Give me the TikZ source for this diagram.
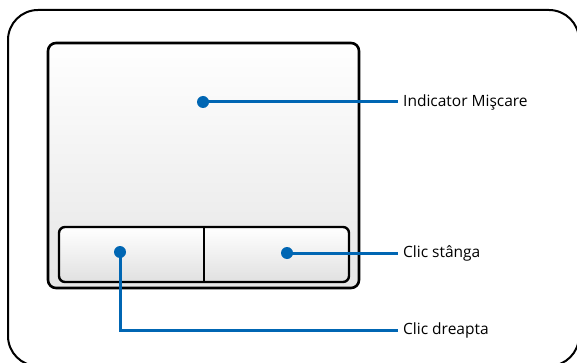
\documentclass[tikz,border=0pt]{standalone}
\usepackage{fontspec}
\setmainfont{Open Sans}
\begin{document}
\begin{tikzpicture}[x=1pt,y=-1pt,
  frame/.style={draw=black,line width=2pt},
  pad/.style={draw=black,line width=2.6pt,rounded corners=8pt},
  lead/.style={draw=leadblue,line width=3pt},
  dotmark/.style={circle,fill=leadblue,inner sep=0pt,minimum size=12pt},
  lbl/.style={anchor=west,inner sep=0pt,font=\fontsize{15.5}{18}\selectfont}]
\definecolor{leadblue}{HTML}{0066B3}
\useasboundingbox (0,0) rectangle (577,363);
\begin{scope}
\clip (0,0) rectangle (577,363);
\draw[frame,rounded corners=30pt] (8,10) rectangle (579,366);
\end{scope}
% touchpad
\shade[top color=white,bottom color=black!10,rounded corners=8pt] (48,43) rectangle (359,288);
\draw[pad] (48,43) rectangle (359,288);
% buttons
\shade[top color=white,bottom color=black!12,rounded corners=6pt] (59,227) rectangle (349,282);
\draw[black,line width=2.4pt,rounded corners=6pt] (59,227) rectangle (349,282);
\draw[black,line width=2.2pt] (204,227) -- (204,282);
% markers
\node[dotmark] (d1) at (203,102) {};
\node[dotmark] (d2) at (287,253) {};
\node[dotmark] (d3) at (120,252) {};
\node[lbl] (t1) at (403,102) {Indicator Mişcare};
\node[lbl] (t2) at (403,253) {Clic stânga};
\node[lbl] (t3) at (403,330) {Clic dreapta};
\coordinate (c3) at (120,330);
\draw[lead] (d1.center) -- ([xshift=-5pt]t1.west);
\draw[lead] (d2.center) -- ([xshift=-5pt]t2.west);
\draw[lead] (d3.center) -- (c3) -- ([xshift=-5pt]t3.west);
\end{tikzpicture}
\end{document}
